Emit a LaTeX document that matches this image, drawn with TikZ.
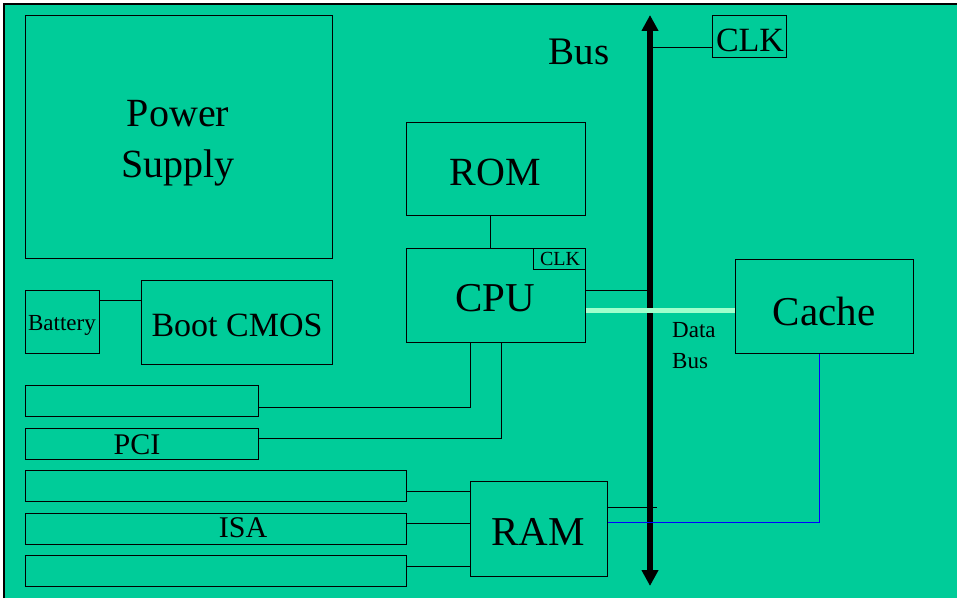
\documentclass[tikz,border=0pt]{standalone}
\usepackage{fontspec}
\setmainfont{Liberation Serif}
\usetikzlibrary{arrows.meta}
\definecolor{board}{RGB}{0,204,153}
\definecolor{databus}{RGB}{160,255,204}
\definecolor{wire}{RGB}{0,0,255}
\begin{document}
\begin{tikzpicture}[x=1pt,y=-1pt,
  box/.style={draw=black,line width=1.3pt,inner sep=0pt,anchor=north west},
  conn/.style={draw=black,line width=0.9pt},
  lbl/.style={inner sep=0pt,text=black,align=center}]
\useasboundingbox (0,0) rectangle (963,601);
% board background with its top and left edges
\fill[board] (4,4) rectangle (957,598);
\draw[line width=1.5pt] (4,598) -- (4,4) -- (957,4);

% component outlines
\node[box,minimum width=307,minimum height=243] (psu) at (25,15) {};
\node[box,minimum width=179,minimum height=93] (rom) at (406,122) {};
\node[box,minimum width=179,minimum height=94] (cpu) at (406,248) {};
\node[box,minimum width=52,minimum height=21] (cpuclk) at (533,248) {};
\node[box,minimum width=74,minimum height=63] (bat) at (25,290) {};
\node[box,minimum width=191,minimum height=84] (cmos) at (141,280) {};
\node[box,minimum width=74,minimum height=42] (clk) at (712,15) {};
\node[box,minimum width=178,minimum height=94] (cache) at (735,259) {};
\node[box,minimum width=137,minimum height=95] (ram) at (470,481) {};
\node[box,minimum width=233,minimum height=31] (slotA) at (25,385) {};
\node[box,minimum width=233,minimum height=31] (pci) at (25,428) {};
\node[box,minimum width=381,minimum height=31] (isaA) at (25,470) {};
\node[box,minimum width=381,minimum height=31] (isa) at (25,513) {};
\node[box,minimum width=381,minimum height=31] (isaC) at (25,555) {};

% labels
\node[lbl,font=\fontsize{40}{51}\selectfont] at (178,143) {Power\\Supply};
\node[lbl,font=\fontsize{40}{48}\selectfont] at (495,172) {ROM};
\node[lbl,font=\fontsize{41}{48}\selectfont] at (495,298) {CPU};
\node[lbl,font=\fontsize{20}{24}\selectfont] at (560,259) {CLK};
\node[lbl,font=\fontsize{23}{28}\selectfont] at (62,325) {Battery};
\node[lbl,font=\fontsize{34}{40}\selectfont] at (237,325) {Boot CMOS};
\node[lbl,font=\fontsize{34}{40}\selectfont] at (750,40) {CLK};
\node[lbl,font=\fontsize{41}{48}\selectfont] at (824,311) {Cache};
\node[lbl,font=\fontsize{41}{48}\selectfont] at (538,532) {RAM};
\node[lbl,font=\fontsize{30}{36}\selectfont] at (137,445) {PCI};
\node[lbl,font=\fontsize{30}{36}\selectfont] at (243,528) {ISA};
\node[lbl,font=\fontsize{39}{46}\selectfont] at (579,52) {Bus};
\node[lbl,align=left,anchor=west,font=\fontsize{23}{31}\selectfont] at (672,346) {Data\\Bus};

% system bus
\coordinate (busTop) at (650,15);
\coordinate (busBot) at (650,586);
\draw[line width=5.5pt,{Triangle[width=16pt,length=16pt]}-{Triangle[width=16pt,length=16pt]}] (busBot) -- (busTop);

% bus taps
\draw[conn] (650,47) -- (clk.west |- 0,47);
\draw[conn] (cpu.east |- 0,290) -- (650,290);
\draw[conn] (ram.east |- 0,507) -- (657,507);
\draw[line width=5pt,databus] (cpu.east |- 0,311) -- (cache.west |- 0,311);
\draw[wire,line width=1pt] (cache.south -| 819,0) -- (819,522) -- (ram.east |- 0,522);

% point-to-point wiring
\draw[conn] (rom.south -| 490,0) -- (cpu.north -| 490,0);
\draw[conn] (bat.east |- 0,300) -- (cmos.west |- 0,300);
\draw[conn] (slotA.east |- 0,407) -- (470,407) -- (cpu.south -| 470,0);
\draw[conn] (pci.east |- 0,438) -- (501,438) -- (cpu.south -| 501,0);
\draw[conn] (isaA.east |- 0,491) -- (ram.west |- 0,491);
\draw[conn] (isa.east |- 0,523) -- (ram.west |- 0,523);
\draw[conn] (isaC.east |- 0,566) -- (ram.west |- 0,566);
\end{tikzpicture}
\end{document}
